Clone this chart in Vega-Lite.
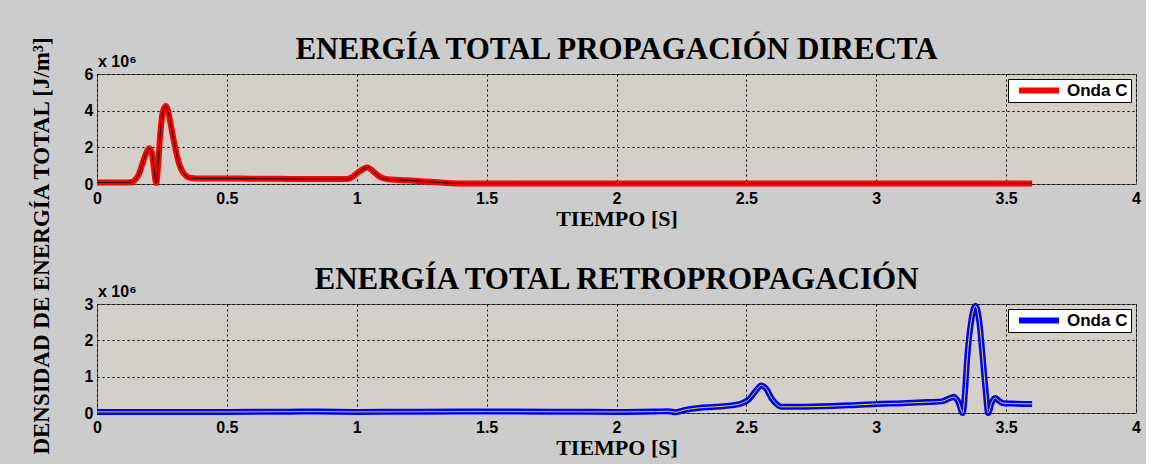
{
  "$schema": "https://vega.github.io/schema/vega-lite/v6.json",
  "background": "#cccccc",
  "padding": {"left": 30, "top": 33, "right": 5, "bottom": 5},
  "title": {"text": "DENSIDAD DE ENERGÍA TOTAL [J/m³]", "orient": "left", "anchor": "middle", "font": "Liberation Serif", "fontSize": 23, "fontWeight": "bold", "color": "black", "offset": 30},
  "spacing": 33,
  "resolve": {"scale": {"color": "independent", "y": "independent"}, "legend": {"color": "independent"}},
  "config": {
    "view": {"fill": "#d4d0c8", "stroke": "#555555", "strokeWidth": 1},
    "axis": {"labelFont": "Liberation Sans", "labelFontWeight": "bold", "labelFontSize": 16, "labelColor": "black", "labelFlush": false, "labelPadding": 4, "labelOverlap": false, "titleFont": "Liberation Serif", "titleFontSize": 22, "titleFontWeight": "bold", "titleColor": "black", "titlePadding": 2, "grid": true, "gridColor": "black", "gridDash": [2, 3], "gridOpacity": 1, "gridWidth": 1, "domain": false, "ticks": false},
    "axisX": {"labelPadding": 6},
    "title": {"font": "Liberation Serif", "fontSize": 31, "fontWeight": "bold", "color": "black", "offset": -12},
    "legend": {"orient": "top-right", "offset": 5, "fillColor": "white", "strokeColor": "black", "padding": 3, "labelFont": "Liberation Sans", "labelFontSize": 17, "labelFontWeight": "bold", "labelColor": "black", "symbolType": "M-1,0H1", "symbolStrokeWidth": 6, "symbolSize": 1600, "symbolOffset": 5, "labelOffset": 5, "clipHeight": 17}
  },
  "vconcat": [
    {
      "width": 1039,
      "height": 110,
      "title": "ENERGÍA TOTAL PROPAGACIÓN DIRECTA",
      "data": {"values": [
        {"t": 0, "e": 80000}, {"t": 0.05, "e": 80000}, {"t": 0.1, "e": 80000}, {"t": 0.13, "e": 90000},
        {"t": 0.145, "e": 200000}, {"t": 0.16, "e": 500000}, {"t": 0.175, "e": 1100000}, {"t": 0.19, "e": 1700000},
        {"t": 0.201, "e": 1950000}, {"t": 0.21, "e": 1750000}, {"t": 0.218, "e": 1000000}, {"t": 0.228, "e": 50000},
        {"t": 0.236, "e": 1200000}, {"t": 0.244, "e": 2800000}, {"t": 0.253, "e": 3900000}, {"t": 0.265, "e": 4250000},
        {"t": 0.275, "e": 3900000}, {"t": 0.285, "e": 3160000}, {"t": 0.295, "e": 2400000}, {"t": 0.304, "e": 1800000},
        {"t": 0.315, "e": 1150000}, {"t": 0.33, "e": 650000}, {"t": 0.345, "e": 420000}, {"t": 0.362, "e": 330000},
        {"t": 0.4, "e": 300000}, {"t": 0.5, "e": 300000}, {"t": 0.6, "e": 290000}, {"t": 0.7, "e": 280000},
        {"t": 0.8, "e": 270000}, {"t": 0.9, "e": 270000}, {"t": 0.965, "e": 270000}, {"t": 0.985, "e": 400000},
        {"t": 1.005, "e": 630000}, {"t": 1.025, "e": 820000}, {"t": 1.04, "e": 900000}, {"t": 1.055, "e": 800000},
        {"t": 1.07, "e": 600000}, {"t": 1.085, "e": 430000}, {"t": 1.105, "e": 300000}, {"t": 1.133, "e": 240000},
        {"t": 1.18, "e": 210000}, {"t": 1.223, "e": 180000}, {"t": 1.27, "e": 130000}, {"t": 1.313, "e": 90000},
        {"t": 1.364, "e": 40000}, {"t": 1.4, "e": 30000}, {"t": 1.6, "e": 30000}, {"t": 2.0, "e": 30000},
        {"t": 2.5, "e": 30000}, {"t": 3.0, "e": 30000}, {"t": 3.6, "e": 30000}
      ]},
      "encoding": {
        "x": {"field": "t", "type": "quantitative", "scale": {"domain": [0, 4], "nice": false}, "axis": {"values": [0, 0.5, 1, 1.5, 2, 2.5, 3, 3.5, 4], "format": "~g", "title": "TIEMPO [S]"}},
        "y": {"field": "e", "type": "quantitative", "scale": {"domain": [0, 6000000], "nice": false}, "axis": {"values": [0, 2000000, 4000000, 6000000], "labelExpr": "format(datum.value / 1000000, 'd')", "title": null}}
      },
      "layer": [
        {
          "mark": {"type": "line", "strokeWidth": 6, "interpolate": "monotone"},
          "encoding": {
            "color": {"datum": "Onda C", "type": "nominal", "scale": {"range": ["#ff0000"]}, "legend": {"title": null}}
          }
        },
        {
          "mark": {"type": "line", "strokeWidth": 1, "color": "black", "interpolate": "monotone"}
        },
        {
          "data": {"values": [{"label": "x 10⁶", "t": 0, "e": 6000000}]},
          "mark": {"type": "text", "align": "left", "baseline": "bottom", "dx": 1, "dy": -4, "font": "Liberation Sans", "fontSize": 16, "fontWeight": "bold", "color": "black"},
          "encoding": {
            "text": {"field": "label"}
          }
        }
      ]
    },
    {
      "width": 1039,
      "height": 109,
      "title": "ENERGÍA TOTAL RETROPROPAGACIÓN",
      "data": {"values": [
        {"t": 0, "e": 30000}, {"t": 0.5, "e": 30000}, {"t": 0.85, "e": 40000}, {"t": 1.0, "e": 30000},
        {"t": 1.5, "e": 40000}, {"t": 2.0, "e": 30000}, {"t": 2.15, "e": 40000}, {"t": 2.2, "e": 50000},
        {"t": 2.226, "e": 20000}, {"t": 2.26, "e": 80000}, {"t": 2.316, "e": 140000}, {"t": 2.38, "e": 170000},
        {"t": 2.444, "e": 210000}, {"t": 2.48, "e": 260000}, {"t": 2.51, "e": 380000}, {"t": 2.535, "e": 600000},
        {"t": 2.557, "e": 760000}, {"t": 2.575, "e": 680000}, {"t": 2.598, "e": 390000}, {"t": 2.617, "e": 240000},
        {"t": 2.636, "e": 170000}, {"t": 2.7, "e": 170000}, {"t": 2.829, "e": 190000}, {"t": 2.894, "e": 210000},
        {"t": 3.0, "e": 250000}, {"t": 3.1, "e": 270000}, {"t": 3.2, "e": 300000}, {"t": 3.253, "e": 320000},
        {"t": 3.28, "e": 400000}, {"t": 3.299, "e": 440000}, {"t": 3.315, "e": 320000}, {"t": 3.333, "e": 0},
        {"t": 3.342, "e": 600000}, {"t": 3.35, "e": 1500000}, {"t": 3.365, "e": 2500000}, {"t": 3.382, "e": 2950000},
        {"t": 3.397, "e": 2500000}, {"t": 3.408, "e": 1680000}, {"t": 3.42, "e": 700000}, {"t": 3.431, "e": 0},
        {"t": 3.445, "e": 300000}, {"t": 3.459, "e": 410000}, {"t": 3.475, "e": 320000}, {"t": 3.49, "e": 270000},
        {"t": 3.52, "e": 260000}, {"t": 3.6, "e": 250000}
      ]},
      "encoding": {
        "x": {"field": "t", "type": "quantitative", "scale": {"domain": [0, 4], "nice": false}, "axis": {"values": [0, 0.5, 1, 1.5, 2, 2.5, 3, 3.5, 4], "format": "~g", "title": "TIEMPO [S]"}},
        "y": {"field": "e", "type": "quantitative", "scale": {"domain": [0, 3000000], "nice": false}, "axis": {"values": [0, 1000000, 2000000, 3000000], "labelExpr": "format(datum.value / 1000000, 'd')", "title": null}}
      },
      "layer": [
        {
          "mark": {"type": "line", "strokeWidth": 6, "interpolate": "monotone"},
          "encoding": {
            "color": {"datum": "Onda C", "type": "nominal", "scale": {"range": ["#0000ff"]}, "legend": {"title": null}}
          }
        },
        {
          "mark": {"type": "line", "strokeWidth": 1, "color": "#e8e000", "interpolate": "monotone"}
        },
        {
          "data": {"values": [{"label": "x 10⁶", "t": 0, "e": 3000000}]},
          "mark": {"type": "text", "align": "left", "baseline": "bottom", "dx": 1, "dy": -4, "font": "Liberation Sans", "fontSize": 16, "fontWeight": "bold", "color": "black"},
          "encoding": {
            "text": {"field": "label"}
          }
        }
      ]
    }
  ]
}
